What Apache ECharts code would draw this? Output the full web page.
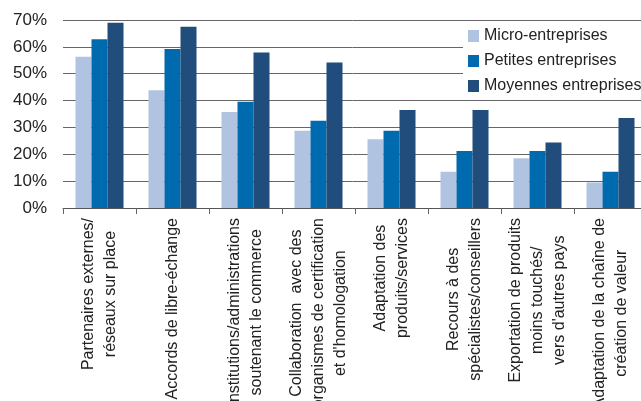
<!DOCTYPE html>
<html>
<head>
<meta charset="utf-8">
<script src="https://cdn.jsdelivr.net/npm/echarts@6/dist/echarts.min.js"></script>
<style>html,body{margin:0;padding:0;background:#fff;}#c{width:641px;height:401px;}</style>
</head>
<body>
<div id="c"></div>
<script>
const categories = [
  "Partenaires externes/\nréseaux sur place",
  "Accords de libre-échange",
  "Institutions/administrations\nsoutenant le commerce",
  "Collaboration  avec des\norganismes de certification\net d'homologation",
  "Adaptation des\nproduits/services",
  "Recours à des\nspécialistes/conseillers",
  "Exportation de produits\nmoins touchés/\nvers d'autres pays",
  "Adaptation de la chaîne de\ncréation de valeur"
];
const microValues = [56.3, 43.8, 35.7, 28.8, 25.6, 13.5, 18.5, 9.5];
const petitesValues = [62.8, 59.2, 39.6, 32.5, 28.8, 21.2, 21.2, 13.5];
const moyennesValues = [69.0, 67.5, 57.9, 54.2, 36.5, 36.5, 24.4, 33.5];
const seriesNames = ["Micro-entreprises", "Petites entreprises", "Moyennes entreprises"];
const yTicks = [0, 10, 20, 30, 40, 50, 60, 70];

const colors = ["#b0c4e2", "#006aae", "#204d7c"];
const font = "'Liberation Sans', Arial, sans-serif";
const chart = echarts.init(document.getElementById('c'), null, {renderer: 'canvas'});
const dataSets = [microValues, petitesValues, moyennesValues];
chart.setOption({
  animation: false,
  backgroundColor: '#fff',
  grid: {left: 63, top: 20, width: 584, height: 188, containLabel: false, outerBoundsMode: 'none'},
  legend: {
    orient: 'vertical', left: 463, top: 21,
    backgroundColor: '#fff', padding: [7, 10, 6, 5],
    itemWidth: 11, itemHeight: 12, itemGap: 9, icon: 'rect',
    textStyle: {fontFamily: font, fontSize: 16, color: '#222'},
    data: seriesNames
  },
  xAxis: {
    type: 'category', data: categories,
    axisLine: {lineStyle: {color: '#555', width: 1}},
    axisTick: {show: true, interval: 0, length: 6, lineStyle: {color: '#666'}},
    axisLabel: {
      interval: 0, rotate: 90, margin: 10, color: '#222',
      fontFamily: font, fontSize: 16, lineHeight: 22,
      formatter: function (v) { return v.split('\n').map(l => '{a|' + l + '}').join('\n'); },
      rich: {a: {align: 'center', fontFamily: font, fontSize: 16, lineHeight: 22, color: '#222'}}
    }
  },
  yAxis: {
    type: 'value', min: yTicks[0], max: yTicks[yTicks.length - 1], interval: 10,
    axisLine: {show: false}, axisTick: {show: false},
    splitLine: {lineStyle: {color: '#666', width: 1}},
    axisLabel: {formatter: '{value}%', fontFamily: font, fontSize: 17, color: '#222', margin: 16}
  },
  series: seriesNames.map((n, i) => ({
    name: n, type: 'bar', data: dataSets[i], barWidth: 16, barGap: '0%',
    itemStyle: {color: colors[i]}
  }))
});
</script>
</body>
</html>
